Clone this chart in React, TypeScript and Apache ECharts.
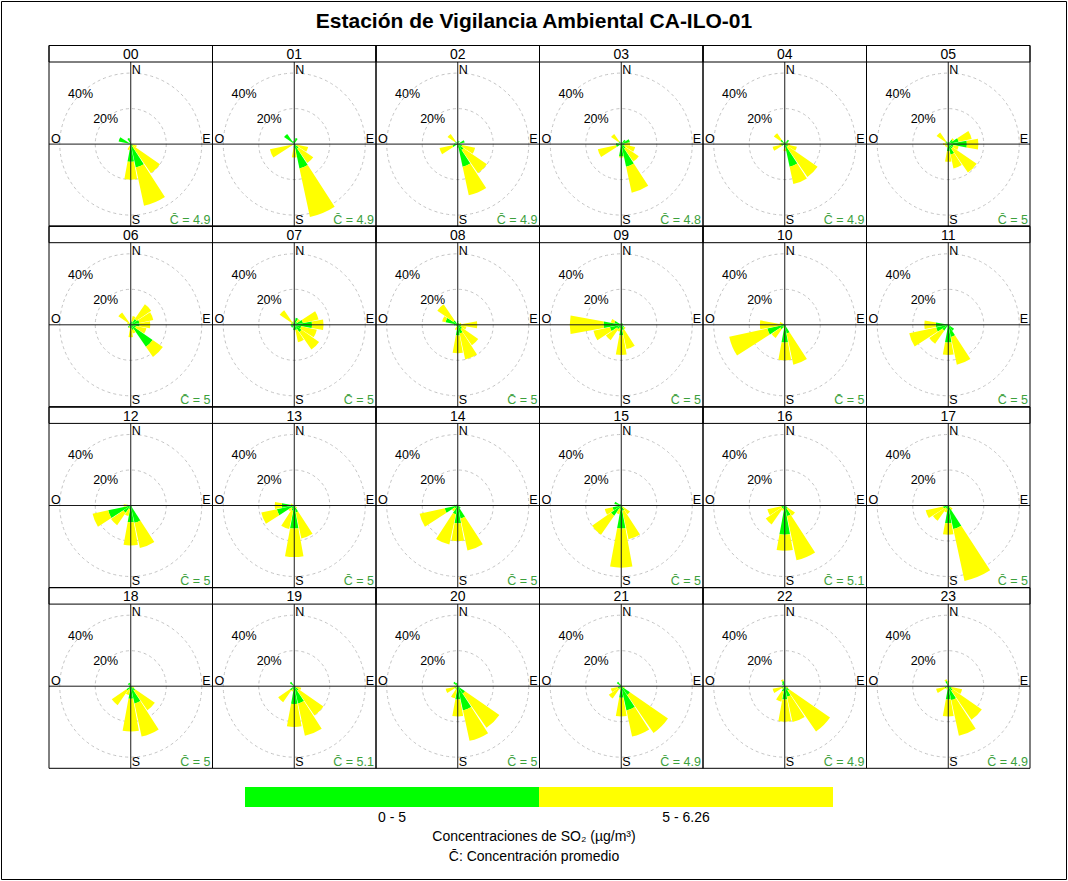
import React, { useEffect, useRef } from 'react';
import * as echarts from 'echarts';

const hours = ['00','01','02','03','04','05','06','07','08','09','10','11','12','13','14','15','16','17','18','19','20','21','22','23'];
const directions = ['N','NNE','NE','ENE','E','ESE','SE','SSE','S','SSW','SW','WSW','W','WNW','NW','NNW'];

// frequency (%) of the 0 - 5 class, per hour, per direction (N .. NNW)
const lowBand: number[][] = [
  [1, 0, 0, 0, 0, 0.5, 1.5, 13.5, 10, 1, 0, 0, 0, 7, 0, 3.5],
  [1, 3.5, 0, 0, 0, 1, 3, 14, 2, 0, 0, 1, 0, 0, 7, 2],
  [0, 2, 0, 4, 0, 2.5, 4, 13, 2, 0, 0, 3, 2, 0, 2, 1],
  [0, 1, 3, 5, 2, 2, 3, 13, 7, 1, 0, 3, 3, 0, 2, 1],
  [0, 1, 3, 2, 1, 2, 2, 13, 2, 0, 0, 2, 2, 1, 3, 1],
  [1, 1, 3, 6, 10.5, 3, 3, 6, 4, 1, 1, 1, 1, 1, 2, 1],
  [1, 2, 4, 5, 5, 3, 15, 3, 2, 1, 2, 1, 1, 1, 1, 1],
  [1, 4, 2, 5, 10, 4, 5, 3, 3, 1, 2, 2, 2, 1, 2, 1],
  [2, 1, 1, 1, 2, 2, 3, 5, 6, 1, 1, 1, 2, 7, 3, 1],
  [0.5, 1, 1, 1, 1, 1, 2, 3, 6, 2, 3, 6.5, 10, 4, 1, 0.5],
  [0, 0, 0, 0, 0, 0, 1, 5, 10, 1, 3, 10, 2, 1, 0.5, 0],
  [0, 0, 0, 0, 0, 1, 4, 7, 10, 1, 4, 7, 7, 1, 0.5, 0],
  [0, 0, 0, 0, 0, 0.5, 1, 10, 9.5, 2, 5, 13, 2, 0.5, 0, 0],
  [0, 0, 0, 0, 0, 0.5, 1, 4, 13, 3, 2, 10, 7, 1, 0, 0],
  [0, 0, 0, 0, 0, 0, 2, 7.5, 10, 5, 2, 7.5, 2, 1, 0, 0],
  [0, 0, 0, 0, 0, 0.5, 1, 3, 13, 2, 7, 5, 1, 4, 1, 0],
  [0, 0, 0, 0, 0, 1, 2, 6, 16.5, 2, 2, 2, 1, 0, 0, 0],
  [0, 0, 0, 0, 0, 0.5, 1, 13.5, 10, 2, 2, 3, 1, 0, 0, 0],
  [0, 0, 0, 0, 0.5, 1, 3, 10, 7, 2, 3, 1, 1, 0, 2, 2],
  [0, 0, 0, 0, 0.5, 1, 3, 10, 10, 2, 3, 1, 1, 0, 3, 1],
  [0, 0, 0, 0, 0, 1, 5, 14, 7.5, 2, 1, 2, 1, 1, 3, 2],
  [0, 0, 0, 0, 0, 1, 6, 14, 6.5, 1, 2, 2, 1, 1, 3, 1],
  [1, 0, 0, 0, 0, 1, 3, 6, 7.5, 3, 1, 2, 1, 0, 2, 3],
  [1, 0, 0, 0, 0.5, 2, 3, 8, 7.5, 1, 1, 2, 1, 0, 1, 3],
];

// frequency (%) of the 5 - 6.26 class, per hour, per direction (N .. NNW)
const highBand: number[][] = [
  [0, 0, 0, 0, 0, 3, 18.5, 22, 10, 2.5, 0, 0, 0, 0, 0, 0],
  [0, 0, 0, 0, 0, 7, 10, 28, 5.5, 0, 0, 13, 0, 0, 0, 0],
  [0, 0, 0, 0, 0, 7.5, 16, 16.5, 0, 0, 0, 7.5, 0, 0, 5, 0],
  [0, 0, 0, 0, 3, 6, 9, 15, 0.5, 0, 0, 10.5, 0, 0, 5, 0],
  [0, 0, 0, 0, 2, 5, 20.5, 10, 2, 0, 0, 5, 1, 1, 4.5, 0],
  [0, 0, 1, 7.5, 6.5, 3, 16.5, 8, 6, 1, 1, 1, 2, 1, 6, 0],
  [0, 3, 10, 8, 6, 6, 7, 2, 5, 1, 0, 0, 0, 1, 7.5, 0],
  [0, 0, 2, 9, 6.5, 9, 12, 7, 0, 0, 0, 0, 0, 1, 8, 1],
  [0, 0, 0, 1, 9, 3, 11, 15, 10, 2, 0, 0, 0, 2, 11, 0],
  [0, 0, 0, 0, 0, 0, 1, 11, 11, 2, 7.5, 9.5, 19, 2, 0, 0],
  [0, 0, 0, 0, 0, 0, 0, 18, 10, 1, 6, 22, 12, 2, 0, 0],
  [0, 0, 0, 0, 0, 0, 0, 16, 7, 0, 9, 15.5, 6.5, 0, 0, 0],
  [0, 0, 0, 0, 0, 0, 0, 14.5, 13, 4, 8.5, 9, 2, 0, 0, 0],
  [0, 0, 0, 0, 0, 0, 1, 15, 16, 10.5, 2, 9, 4, 1, 0, 0],
  [0, 0, 0, 0, 0, 0, 0, 18.5, 10, 17.5, 2, 14.5, 0, 0, 0, 0],
  [0, 0, 0, 0, 0, 0, 5, 16.5, 22, 3, 13, 4.5, 0, 0, 0, 0],
  [0, 0, 0, 0, 0, 0, 5, 25.5, 9, 1, 11, 8, 0, 0, 0, 0],
  [0, 0, 0, 0, 0, 0, 2, 30, 6.5, 2, 8.5, 10, 1, 0, 0, 0],
  [0, 0, 0, 0, 0, 1, 13.5, 19, 18.5, 3, 10, 0, 0, 0, 0, 0],
  [0, 0, 0, 0, 0, 3, 17, 18.5, 13, 1, 8, 0, 0, 0, 0, 0],
  [0, 0, 0, 0, 0, 0, 23.5, 17.5, 9.5, 5, 1, 5, 1, 0, 0, 0],
  [0, 0, 0, 0, 0, 1, 26, 15, 10.5, 1, 6.5, 4, 0, 0, 0, 0],
  [0, 0, 0, 0, 0, 1, 28, 14.7, 12.5, 6, 1, 5, 0, 0, 0, 1],
  [2, 0, 0, 0, 0, 6, 20, 20.5, 9.5, 1, 1, 5, 0, 0, 0, 1],
];

const meanConc = ['4.9','4.9','4.9','4.8','4.9','5','5','5','5','5','5','5','5','5','5','5','5.1','5','5','5.1','5','4.9','4.9','4.9'];
const ringValues = [20, 40];
const ringLabels = ['20%', '40%'];
const compassLabels = ['N', 'E', 'S', 'O'];
const legendClasses = ['0 - 5', '5 - 6.26'];
const legendColors = ['#00FF00', '#FFFF00'];
const titleText = 'Estación de Vigilancia Ambiental CA-ILO-01';

const W = 1068, H = 881;
const COL_X0 = 49, COL_W = 163.5, ROW_Y0 = 45.5, ROW_H = 180.7, STRIP_H = 16.5;
const RMAX = 50, PX_PER = 1.775;
const FONT = '"Liberation Sans", Arial, Helvetica, sans-serif';

export default function App() {
  const ref = useRef<HTMLDivElement>(null);
  useEffect(() => {
    document.body.style.margin = '0';
    const chart = echarts.init(ref.current!, null, { renderer: 'svg', width: W, height: H });
    const polar: any[] = [], angleAxis: any[] = [], radiusAxis: any[] = [], series: any[] = [], graphic: any[] = [];
    const txt = (x: number, y: number, text: string, size: number, align: string, valign: string, fill = '#000', weight = 'normal', z = 30) => ({
      type: 'text', x, y, z, silent: true,
      style: { text, fill, font: `${weight} ${size}px ${FONT}`, textAlign: align, textVerticalAlign: valign },
    });
    hours.forEach((h, i) => {
      const col = i % 6, row = Math.floor(i / 6);
      const x0 = COL_X0 + col * COL_W, y0 = ROW_Y0 + row * ROW_H;
      const cx = x0 + COL_W / 2, cy = y0 + STRIP_H + (ROW_H - STRIP_H) / 2;
      polar.push({ center: [cx, cy], radius: [0, RMAX * PX_PER] });
      angleAxis.push({
        polarIndex: i, type: 'category', data: directions, startAngle: 90 + 11.25, clockwise: true,
        axisLine: { show: false }, axisTick: { show: false }, axisLabel: { show: false }, splitLine: { show: false }, splitArea: { show: false },
      });
      radiusAxis.push({
        polarIndex: i, type: 'value', min: 0, max: RMAX,
        axisLine: { show: false }, axisTick: { show: false }, axisLabel: { show: false }, splitLine: { show: false }, splitArea: { show: false },
      });
      series.push({
        type: 'bar', coordinateSystem: 'polar', polarIndex: i, stack: 'st' + i, data: lowBand[i],
        itemStyle: { color: legendColors[0] }, barCategoryGap: '8%', silent: true, z: 2,
      });
      series.push({
        type: 'bar', coordinateSystem: 'polar', polarIndex: i, stack: 'st' + i, data: highBand[i],
        itemStyle: { color: legendColors[1] }, barCategoryGap: '8%', silent: true, z: 2,
      });
      ringValues.forEach((v, k) => {
        const r = v * PX_PER;
        graphic.push({
          type: 'circle', z: 0, silent: true, shape: { cx, cy, r },
          style: { fill: 'none', stroke: '#c4c4c4', lineWidth: 1, lineDash: [3, 3] },
        });
        const d = r / Math.SQRT2;
        graphic.push(txt(cx - d, cy - d, ringLabels[k], 12.5, 'center', 'middle'));
      });
      graphic.push({ type: 'line', z: 20, silent: true, shape: { x1: cx, y1: y0 + STRIP_H, x2: cx, y2: y0 + ROW_H }, style: { stroke: '#1a1a1a', lineWidth: 1 } });
      graphic.push({ type: 'line', z: 20, silent: true, shape: { x1: x0, y1: cy, x2: x0 + COL_W, y2: cy }, style: { stroke: '#1a1a1a', lineWidth: 1 } });
      graphic.push(txt(cx + 1, y0 + STRIP_H + 8, compassLabels[0], 12.5, 'left', 'middle'));
      graphic.push(txt(x0 + COL_W - 2, cy - 5.5, compassLabels[1], 12.5, 'right', 'middle'));
      graphic.push(txt(cx + 1, y0 + ROW_H - 6.5, compassLabels[2], 12.5, 'left', 'middle'));
      graphic.push(txt(x0 + 2, cy - 5.5, compassLabels[3], 12.5, 'left', 'middle'));
      graphic.push(txt(x0 + COL_W - 2, y0 + ROW_H - 6.5, 'C\u0304 = ' + meanConc[i], 12.5, 'right', 'middle', '#3CA03C'));
      graphic.push({ type: 'rect', z: 25, silent: true, shape: { x: x0, y: y0, width: COL_W, height: ROW_H }, style: { fill: 'none', stroke: '#000', lineWidth: 1 } });
      graphic.push({ type: 'rect', z: 25, silent: true, shape: { x: x0, y: y0, width: COL_W, height: STRIP_H }, style: { fill: 'none', stroke: '#000', lineWidth: 1 } });
      graphic.push(txt(cx, y0 + STRIP_H / 2 + 0.5, h, 14, 'center', 'middle'));
    });
    // outer frame + title
    graphic.push({ type: 'rect', z: 25, silent: true, shape: { x: 1.5, y: 1.5, width: W - 3, height: H - 3 }, style: { fill: 'none', stroke: '#000', lineWidth: 1 } });
    graphic.push(txt(W / 2, 20, titleText, 21, 'center', 'middle', '#000', 'bold'));
    // legend colour bar
    const lx = 245, lw = 294, ly = 787, lh = 20;
    legendClasses.forEach((c, k) => {
      graphic.push({ type: 'rect', z: 5, silent: true, shape: { x: lx + k * lw, y: ly, width: lw, height: lh }, style: { fill: legendColors[k] } });
      graphic.push(txt(lx + k * lw + lw / 2, 817, c, 14, 'center', 'middle'));
    });
    graphic.push(txt(W / 2, 836, 'Concentraciones de SO\u2082 (\u00b5g/m\u00b3)', 14, 'center', 'middle'));
    graphic.push(txt(W / 2, 856, 'C\u0304: Concentración promedio', 14, 'center', 'middle'));

    chart.setOption({
      animation: false,
      backgroundColor: '#fff',
      polar, angleAxis, radiusAxis, series, graphic,
    });
    return () => chart.dispose();
  }, []);
  return <div ref={ref} style={{ position: 'absolute', left: 0, top: 0, width: W, height: H }} />;
}
